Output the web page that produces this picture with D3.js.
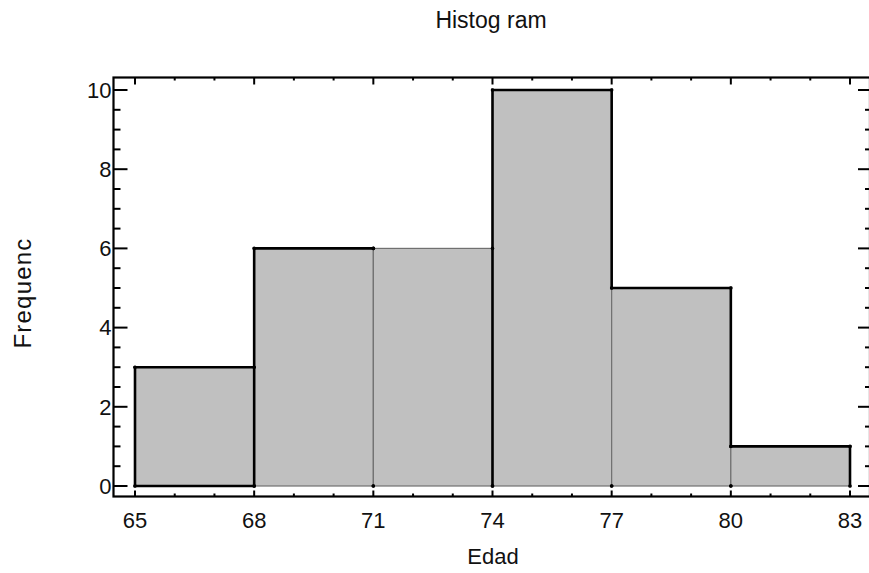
<!DOCTYPE html>
<html>
<head>
<meta charset="utf-8">
<script src="https://cdn.jsdelivr.net/npm/d3@7/dist/d3.min.js"></script>
<style>
  html, body { margin: 0; padding: 0; background: #fff; }
  svg { display: block; font-family: "Liberation Sans", Arial, sans-serif; }
</style>
</head>
<body>
<script>
// ---- data ----
const binEdges = [65, 68, 71, 74, 77, 80, 83];
const counts = [3, 6, 6, 10, 5, 1];
const xTickValues = [65, 68, 71, 74, 77, 80, 83];
const yTickValues = [0, 2, 4, 6, 8, 10];
const titleText = "Histog ram";
const xLabel = "Edad";
const yLabel = "Frequenc";

// ---- layout ----
const W = 869, H = 573;
const frame = { left: 113.5, top: 77.5, right: 870, bottom: 496.5 };

const x = d3.scaleLinear().domain([65, 83]).range([135, 850]);
const y = d3.scaleLinear().domain([0, 10]).range([486, 90]);

const svg = d3.select("body").append("svg").attr("width", W).attr("height", H);

// bars
const bars = counts.map((c, i) => ({ x0: binEdges[i], x1: binEdges[i + 1], c }));
svg.append("g").selectAll("rect").data(bars).join("rect")
  .attr("x", d => x(d.x0)).attr("y", d => y(d.c))
  .attr("width", d => x(d.x1) - x(d.x0)).attr("height", d => y(0) - y(d.c))
  .attr("fill", "#c0c0c0").attr("stroke", "#707070").attr("stroke-width", 1.2);

// thick outline segments derived from data
const segs = [];
for (let j = 0; j < binEdges.length; j++) {
  const hl = j > 0 ? counts[j - 1] : 0;
  const hr = j < counts.length ? counts[j] : 0;
  if (hr > hl) segs.push([binEdges[j], 0, binEdges[j], hr]);
  else if (hr < hl) segs.push([binEdges[j], hr, binEdges[j], hl]);
}
counts.forEach((c, i) => {
  if (i === 0 || c !== counts[i - 1]) segs.push([binEdges[i], c, binEdges[i + 1], c]);
});
segs.push([binEdges[0], 0, binEdges[1], 0]);
svg.append("g").selectAll("line").data(segs).join("line")
  .attr("x1", d => x(d[0])).attr("y1", d => y(d[1]))
  .attr("x2", d => x(d[2])).attr("y2", d => y(d[3]))
  .attr("stroke", "#000").attr("stroke-width", 2.6).attr("stroke-linecap", "square");

// corner dots
const dots = [];
bars.forEach(b => { dots.push([b.x0, 0], [b.x1, 0], [b.x0, b.c], [b.x1, b.c]); });
svg.append("g").selectAll("circle").data(dots).join("circle")
  .attr("cx", d => x(d[0])).attr("cy", d => y(d[1])).attr("r", 1.8).attr("fill", "#000");

// frame
svg.append("rect")
  .attr("x", frame.left).attr("y", frame.top)
  .attr("width", frame.right - frame.left).attr("height", frame.bottom - frame.top)
  .attr("fill", "none").attr("stroke", "#000").attr("stroke-width", 2.2);

// x ticks (every unit, major every 3)
const xt = d3.range(65, 84, 1);
const isMajorX = v => xTickValues.includes(v);
const gt = svg.append("g").attr("stroke", "#000").attr("stroke-width", 2);
gt.selectAll(".xb").data(xt).join("line").attr("class", "xb")
  .attr("x1", d => x(d)).attr("x2", d => x(d))
  .attr("y1", frame.bottom).attr("y2", d => frame.bottom - (isMajorX(d) ? 6 : 3));
gt.selectAll(".xt").data(xt).join("line").attr("class", "xt")
  .attr("x1", d => x(d)).attr("x2", d => x(d))
  .attr("y1", frame.top).attr("y2", d => frame.top + (isMajorX(d) ? 7 : 3));

// y ticks (every 0.5, major every 2)
const ytv = d3.range(0, 10.01, 0.5);
const isMajorY = v => yTickValues.includes(v);
gt.selectAll(".yl").data(ytv).join("line").attr("class", "yl")
  .attr("y1", d => y(d)).attr("y2", d => y(d))
  .attr("x1", frame.left).attr("x2", d => frame.left + (isMajorY(d) ? 14 : 7));
gt.selectAll(".yr").data(ytv).join("line").attr("class", "yr")
  .attr("y1", d => y(d)).attr("y2", d => y(d))
  .attr("x1", frame.right).attr("x2", d => frame.right - (isMajorY(d) ? 12 : 5));

// tick labels
svg.append("g").selectAll("text").data(xTickValues).join("text")
  .attr("x", d => x(d)).attr("y", 528)
  .attr("text-anchor", "middle").attr("font-size", 22).attr("fill", "#111")
  .text(d => d);
svg.append("g").selectAll("text").data(yTickValues).join("text")
  .attr("x", 111.5).attr("y", d => y(d)).attr("dy", "0.35em")
  .attr("text-anchor", "end").attr("font-size", 22).attr("fill", "#111")
  .text(d => d);

// titles
svg.append("text").attr("x", 491).attr("y", 28).attr("text-anchor", "middle")
  .attr("font-size", 23).attr("fill", "#111").text(titleText);
svg.append("text").attr("x", 493).attr("y", 564).attr("text-anchor", "middle")
  .attr("font-size", 22).attr("fill", "#111").text(xLabel);
svg.append("text").attr("transform", "translate(31,293) rotate(-90)")
  .attr("text-anchor", "middle").attr("font-size", 24).attr("letter-spacing", 1.2)
  .attr("fill", "#111").text(yLabel);
</script>
</body>
</html>
